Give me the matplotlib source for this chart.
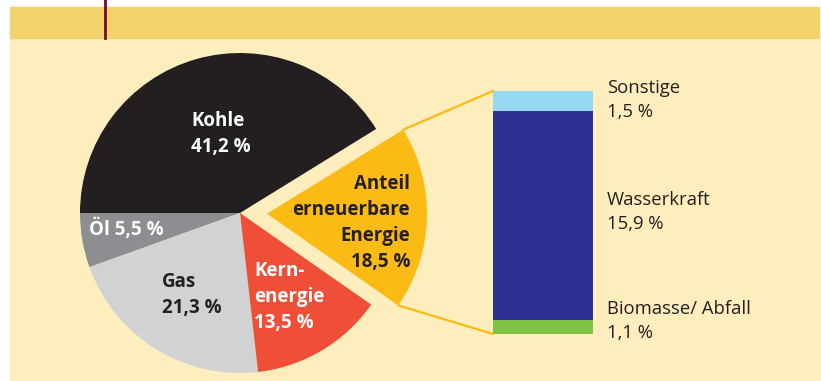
import matplotlib
matplotlib.use("Agg")
import matplotlib.pyplot as plt
from matplotlib.patches import Rectangle, ConnectionPatch
import numpy as np

plt.rcParams['font.family'] = ['Open Sans', 'DejaVu Sans']

# pie data (clockwise on screen starting at the left)
pie_labels = ["Öl 5,5 %", "Gas\n21,3 %", "Kern-\nenergie\n13,5 %",
              "Anteil\nerneuerbare\nEnergie\n18,5 %", "Kohle\n41,2 %"]
pie_values = [5.5, 21.3, 13.5, 18.5, 41.2]
pie_colors = ["#8d8e91", "#d1d2d4", "#ef4f37", "#fbba14", "#231f20"]
pie_text_colors = ["white", "#231f20", "white", "#231f20", "white"]

# breakdown of the renewables slice (bottom to top)
bar_labels = ["Biomasse/ Abfall\n1,1 %", "Wasserkraft\n15,9 %", "Sonstige\n1,5 %"]
bar_values = [1.1, 15.9, 1.5]
bar_colors = ["#7dc243", "#2e3192", "#97d8f1"]

W, H = 821, 381
fig = plt.figure(figsize=(W / 100, H / 100), dpi=100)
fig.patch.set_facecolor("white")
ax = fig.add_axes([0, 0, 1, 1])

# background panel and header band
ax.add_patch(Rectangle((10, 0), W - 10, H - 38, color="#feeebd", zorder=0))
ax.add_patch(Rectangle((10, H - 38), 809, 31, color="#f2d26b", zorder=0))
ax.plot([105, 105], [H - 38, H], color="#6e0b30", lw=2, zorder=1)

cx, cy, r = 240, H - 213, 160
# pie explode offset is in data units here
wedges, _ = ax.pie(pie_values, colors=pie_colors, explode=[0, 0, 0, 27, 0],
                   startangle=180, counterclock=True, center=(cx, cy),
                   radius=r, wedgeprops=dict(linewidth=0))

ax.set_xlim(0, W)
ax.set_ylim(0, H)
ax.set_aspect("equal")
ax.axis("off")

# slice labels: x, y of first line (image px), alignment
label_pos = [(126, 229, "center"), (162, 282, "left"), (254, 271, "left"),
             (410, 184, "right"), (191, 121, "left")]
fs = 13.5
step = 26  # px between lines
for lab, col, (x, y, ha) in zip(pie_labels, pie_text_colors, label_pos):
    n = lab.count("\n")
    ax.text(x, H - (y + n * step / 2), lab, color=col, fontsize=fs,
            fontweight="bold", ha=ha, va="center",
            linespacing=step / (fs * 100 / 72), multialignment=ha)

# stacked bar in its own axes
ax2 = fig.add_axes([493 / W, (H - 334) / H, 100 / W, 243 / H])
bottoms = np.concatenate([[0], np.cumsum(bar_values)[:-1]])
ax2.bar(0, bar_values, bottom=bottoms, color=bar_colors, width=1.0, linewidth=0)
ax2.set_xlim(-0.5, 0.5)
ax2.set_ylim(0, sum(bar_values))
ax2.axis("off")

label_y = [321, 212, 100]
fs2 = 13.3
for lab, y in zip(bar_labels, label_y):
    ax.text(607, H - y, lab, fontsize=fs2, color="#231f20",
            ha="left", va="center", linespacing=27 / (fs2 * 100 / 72))

# connector lines from exploded wedge to bar
w = wedges[3]
wc = w.center
for ang, yb in [(w.theta2, sum(bar_values)), (w.theta1, 0)]:
    px = wc[0] + w.r * np.cos(np.radians(ang))
    py = wc[1] + w.r * np.sin(np.radians(ang))
    con = ConnectionPatch(xyA=(px, py), coordsA=ax.transData,
                          xyB=(-0.5, yb), coordsB=ax2.transData,
                          color="#fbba14", lw=1.6, zorder=0.5)
    fig.add_artist(con)

fig.savefig("out.png", dpi=100, facecolor="white")
